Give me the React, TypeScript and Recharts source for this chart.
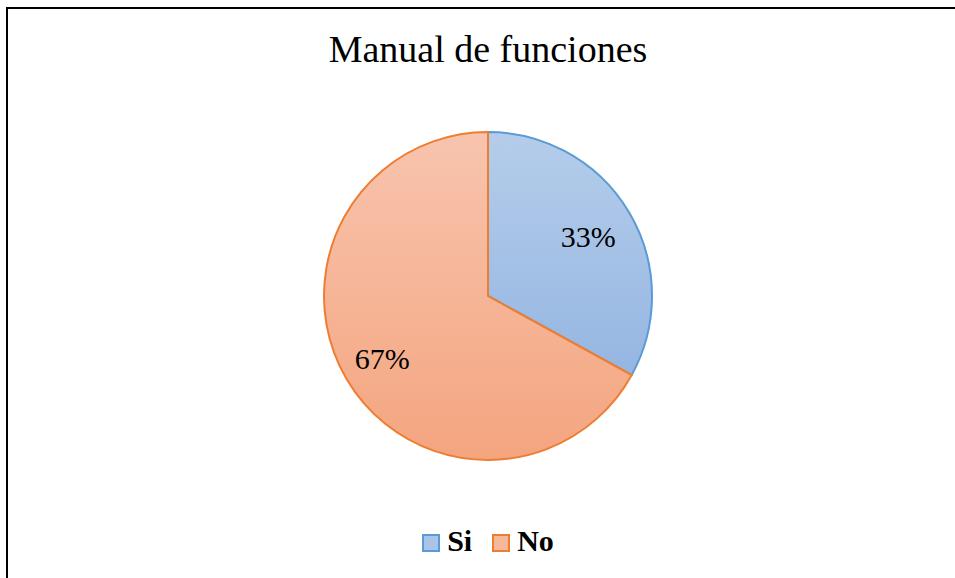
import React from "react";
import { PieChart, Pie, Cell, Legend } from "recharts";

const categories = ["Si", "No"];
const values = [33, 67];
const labels = ["33%", "67%"];
const title = "Manual de funciones";

const fills = ["url(#gradSi)", "url(#gradNo)"];
const strokes = ["#5b9bd5", "#ed7d31"];
const swatchFills = ["#aac4e8", "#f6b89c"];

const data = categories.map((name, i) => ({ name, value: values[i], label: labels[i] }));

const FONT = "'Liberation Serif', 'Times New Roman', serif";

const renderLabel = (props: any) => {
  const { cx, cy, midAngle, outerRadius, index } = props;
  const RAD = Math.PI / 180;
  const r = outerRadius * (index === 0 ? 0.71 : 0.75);
  const x = cx + r * Math.cos(-midAngle * RAD);
  const y = cy + r * Math.sin(-midAngle * RAD);
  return (
    <text
      x={x}
      y={y}
      textAnchor="middle"
      dominantBaseline="central"
      style={{ fontFamily: FONT }}
      fontSize={30}
      fill="#000"
    >
      {data[index].label}
    </text>
  );
};

const renderLegend = () => (
  <div
    style={{
      display: "flex",
      justifyContent: "center",
      alignItems: "center",
      paddingLeft: 21,
      fontFamily: FONT,
      fontWeight: "bold",
      fontSize: 30,
      color: "#000",
    }}
  >
    {categories.map((c, i) => (
      <div key={c} style={{ display: "flex", alignItems: "center", marginRight: i === 0 ? 20 : 0 }}>
        <span
          style={{
            display: "inline-block",
            width: 14,
            height: 14,
            background: swatchFills[i],
            border: `2px solid ${strokes[i]}`,
            marginRight: 7,
            marginTop: 3,
          }}
        />
        <span>{c}</span>
      </div>
    ))}
  </div>
);

export default function App() {
  return (
    <div
      style={{
        position: "fixed",
        left: 0,
        top: 0,
        width: 955,
        height: 578,
        overflow: "hidden",
        background: "#fff",
      }}
    >
      <div
        style={{
          position: "absolute",
          left: 6,
          top: 7,
          width: 1100,
          height: 800,
          border: "2px solid #000",
          boxSizing: "border-box",
        }}
      />
      <div style={{ position: "absolute", left: 0, top: 0 }}>
        <PieChart width={955} height={578} margin={{ top: 0, right: 0, bottom: 0, left: 0 }}>
          <defs>
            <linearGradient id="gradSi" x1="0" y1="0" x2="0" y2="1">
              <stop offset="0%" stopColor="#b5cdea" />
              <stop offset="100%" stopColor="#95b6e2" />
            </linearGradient>
            <linearGradient id="gradNo" x1="0" y1="0" x2="0" y2="1">
              <stop offset="0%" stopColor="#f8c4ae" />
              <stop offset="100%" stopColor="#f4a57f" />
            </linearGradient>
          </defs>
          <text
            x={488}
            y={62}
            textAnchor="middle"
            style={{ fontFamily: FONT }}
            fontSize={38}
            fill="#000"
          >
            {title}
          </text>
          <Pie
            data={data}
            dataKey="value"
            nameKey="name"
            cx={488}
            cy={296}
            outerRadius={164}
            startAngle={90}
            endAngle={-270}
            label={renderLabel}
            labelLine={false}
            isAnimationActive={false}
          >
            {data.map((d, i) => (
              <Cell key={d.name} fill={fills[i]} stroke={strokes[i]} strokeWidth={2} />
            ))}
          </Pie>
          <Legend
            content={renderLegend}
            wrapperStyle={{ position: "absolute", left: 0, top: 524, width: 955 }}
          />
        </PieChart>
      </div>
    </div>
  );
}
